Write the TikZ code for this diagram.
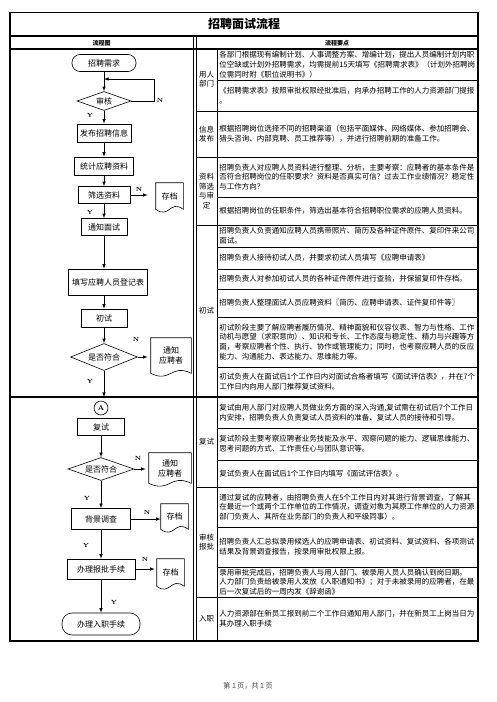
\documentclass[tikz,border=0pt]{standalone}
\usepackage{fontspec}
\newfontfamily\cjk{Noto Sans CJK SC}
\usetikzlibrary{shapes.geometric,calc}
\tikzset{terminal/.style={draw=black, rectangle, rounded corners=8pt, minimum height=17pt, font=\cjk\fontsize{8}{9}\selectfont}}
\tikzset{process/.style={draw=black, rectangle, minimum height=18pt, inner sep=2pt, font=\cjk\fontsize{8}{9}\selectfont}}
\tikzset{decision/.style={draw=black, diamond, aspect=2.5, inner sep=0pt, font=\cjk\fontsize{8}{9}\selectfont}}
\tikzset{doc/.style={rectangle, inner sep=0pt, align=center, font=\cjk\fontsize{8}{10}\selectfont}}
\tikzset{yn/.style={inner sep=0pt, font=\bfseries\fontsize{6}{6}\selectfont}}
\tikzset{lab/.style={inner sep=0pt, align=center, font=\cjk\fontsize{7.5}{9.5}\selectfont}}
\tikzset{cell/.style={anchor=west, inner sep=0pt, align=left, font=\cjk\fontsize{7.5}{9.8}\selectfont}}
\newcommand\docline[1]{\draw (#1.south west) -- (#1.north west) -- (#1.north east) -- (#1.south east)
  .. controls ($(#1.south)+(0,-10)$) and ($(#1.south)+(0,10)$) .. (#1.south west) -- cycle;}

\begin{document}
\begin{tikzpicture}[x=1pt, y=-1pt, >=latex, line width=0.6pt]
\useasboundingbox (0,0) rectangle (496,702);
% table frame
\draw[line width=1.6pt] (10,12.5) rectangle (478,641);
\draw[line width=1.6pt] (10,36) -- (478,36);
\draw[line width=1.2pt] (10,49) -- (478,49);
\draw[line width=1.6pt] (10,397) -- (478,397);
\draw (193,36) -- (193,641);
\draw (196,36) -- (196,641);
\draw[line width=1pt] (217,49) -- (217,641);
\foreach \y in {111,157,225,487,597}
  \draw[line width=1pt] (196,\y) -- (478,\y);
\foreach \y in {80,197,247,269,289,317,367,428,460,527,567}
  \draw[line width=0.8pt] (217,\y) -- (478,\y);

\node[font=\cjk\bfseries\fontsize{12}{12}\selectfont] (title) at (244,24) {招聘面试流程};
\node[font=\cjk\bfseries\fontsize{6}{6}\selectfont] (headl) at (101.5,43) {流程图};
\node[font=\cjk\bfseries\fontsize{6}{6}\selectfont] (headr) at (337,43) {流程要点};

% flow chart
\node[terminal, minimum width=64pt] (need) at (104,63) {招聘需求};
\node[decision, minimum width=54pt, minimum height=19pt] (audit) at (104,101) {审核};
\node[process, minimum width=54pt] (post) at (104,133) {发布招聘信息};
\node[process, minimum width=59pt] (stats) at (104,166) {统计应聘资料};
\node[process, minimum width=52pt, minimum height=17pt] (screen) at (104,195) {筛选资料};
\node[doc, minimum width=27pt, minimum height=26pt] (arch1) at (169.5,196) {存档};
\node[process, minimum width=46pt, minimum height=17pt] (notify) at (104,227) {通知面试};
\node[process, minimum width=79pt, minimum height=26pt] (form) at (108,282) {填写应聘人员登记表};
\node[process, minimum width=46pt] (first) at (104,318) {初试};
\node[decision, minimum width=67pt, minimum height=27pt] (ok1) at (104,357) {是否符合};
\node[doc, minimum width=40pt, minimum height=35pt] (tell1) at (171,355.5) {通知\\应聘者};
\coordinate (cut) at (104,397);

\node[draw, circle, minimum size=14pt, inner sep=0pt, font=\bfseries\fontsize{7}{7}\selectfont] (conA) at (101,408) {A};
\node[process, minimum width=47pt, minimum height=17pt] (second) at (101,427) {复试};
\node[decision, minimum width=66pt, minimum height=23pt] (ok2) at (101,469) {是否符合};
\node[doc, minimum width=42pt, minimum height=30pt] (tell2) at (170,468) {通知\\应聘者};
\node[process, minimum width=59pt, minimum height=21pt] (bg) at (101,519) {背景调查};
\node[doc, minimum width=27pt, minimum height=25pt] (arch2) at (174.5,516.5) {存档};
\node[process, minimum width=68pt, minimum height=20pt] (approve) at (101,569) {办理报批手续};
\node[doc, minimum width=27pt, minimum height=27pt] (arch3) at (170.5,572.5) {存档};
\node[terminal, minimum width=78pt, minimum height=22pt, rounded corners=10pt] (onboard) at (101,624) {办理入职手续};

\docline{arch1}
\docline{tell1}
\docline{tell2}
\docline{arch2}
\docline{arch3}

\coordinate (back) at (154,79);
\draw[->] (need.south) -- (need.south |- audit.north);
\draw[->] (audit.east) -| (back) -- (back -| need.south);
\draw[->] (audit.south) -- (audit.south |- post.north);
\draw[->] (post.south) -- (post.south |- stats.north);
\draw[->] (stats.south) -- (stats.south |- screen.north);
\draw[->, shorten >=8pt] (screen.east) -- (screen.east -| arch1.west);
\draw[->] (screen.south) -- (screen.south |- notify.north);
\draw[->] (notify.south) -- (notify.south |- form.north);
\draw[->] (form.south -| first.north) -- (first.north);
\draw[->] (first.south) -- (first.south |- ok1.north);
\draw[->, shorten >=3pt] (ok1.east) -- (ok1.east -| tell1.west);
\draw[->] (ok1.south) -- (cut);
\draw[->] (second.south) -- (second.south |- ok2.north);
\draw[->, shorten >=3pt] (ok2.east) -- (ok2.east -| tell2.west);
\draw[->] (ok2.south) -- (ok2.south |- bg.north);
\draw[->] (bg.east) -- (bg.east -| arch2.west);
\draw[->] (bg.south) -- (bg.south |- approve.north);
\draw[->, shorten >=2pt] (approve.east) -- (approve.east -| arch3.west);
\draw[->] (approve.south) -- (approve.south |- onboard.north);

\node[yn] (n1) at (160,100) {N};
\node[yn] (y1) at (90,115) {Y};
\node[yn] (n2) at (139,189) {N};
\node[yn] (y2) at (90,212) {Y};
\node[yn] (n3) at (136,339) {N};
\node[yn] (y3) at (90,381) {Y};
\node[yn] (n4) at (138,458) {N};
\node[yn] (y4) at (87,498) {Y};
\node[yn] (n5) at (147,512) {N};
\node[yn] (y5) at (86,545) {Y};
\node[yn] (n6) at (145,559) {N};
\node[yn] (y6) at (114,602) {Y};

% stage labels
\node[lab] (s1) at (206.5,79) {用人\\部门};
\node[lab] (s2) at (206.5,134) {信息\\发布};
\node[lab] (s3) at (206.5,191) {资料\\筛选\\与审\\定};
\node[lab] (s4) at (206.5,311) {初试};
\node[lab] (s5) at (206.5,442) {复试};
\node[lab] (s6) at (206.5,542) {审核\\报批};
\node[lab] (s7) at (206.5,619) {入职};

% key points
\node[cell] (r1) at (219,64.5) {各部门根据现有编制计划、人事调整方案、增编计划，提出人员编制计划内职\\位空缺或计划外招聘需求，均需提前15天填写《招聘需求表》（计划外招聘岗\\位需同时附《职位说明书》）};
\node[cell] (r2) at (219,95.5) {《招聘需求表》按照审批权限经批准后，向承办招聘工作的人力资源部门提报\\。};
\node[cell] (r3) at (219,134) {根据招聘岗位选择不同的招聘渠道（包括平面媒体、网络媒体、参加招聘会、\\猎头咨询、内部竞聘、员工推荐等），并进行招聘前期的准备工作。};
\node[cell] (r4) at (219,177) {招聘负责人对应聘人员资料进行整理、分析，主要考察：应聘者的基本条件是\\否符合招聘岗位的任职要求？资料是否真实可信？过去工作业绩情况？稳定性\\与工作方向？};
\node[cell] (r5) at (219,211) {根据招聘岗位的任职条件，筛选出基本符合招聘职位需求的应聘人员资料。};
\node[cell] (r6) at (219,236) {招聘负责人负责通知应聘人员携带照片、简历及各种证件原件、复印件来公司\\面试。};
\node[cell] (r7) at (219,258) {招聘负责人接待初试人员，并要求初试人员填写《应聘申请表》};
\node[cell] (r8) at (219,279) {招聘负责人对参加初试人员的各种证件原件进行查验，并保留复印件存档。};
\node[cell] (r9) at (219,303) {招聘负责人整理面试人员应聘资料〖简历、应聘申请表、证件复印件等〗};
\node[cell] (r10) at (219,342) {初试阶段主要了解应聘者履历情况、精神面貌和仪容仪表、智力与性格、工作\\动机与愿望（求职意向）、知识和专长、工作态度与稳定性、精力与兴趣等方\\面，考察应聘者个性、执行、协作或管理能力；同时，也考察应聘人员的反应\\能力、沟通能力、表达能力、思维能力等。};
\node[cell] (r11) at (219,382) {初试负责人在面试后1个工作日内对面试合格者填写《面试评估表》，并在7个\\工作日内向用人部门推荐复试资料。};
\node[cell] (r12) at (219,412.5) {复试由用人部门对应聘人员做业务方面的深入沟通,复试需在初试后7个工作日\\内安排，招聘负责人负责复试人员资料的准备、复试人员的接待和引导。};
\node[cell] (r13) at (219,444) {复试阶段主要考察应聘者业务技能及水平、观察问题的能力、逻辑思维能力、\\思考问题的方式、工作责任心与团队意识等。};
\node[cell] (r14) at (219,473.5) {复试负责人在面试后1个工作日内填写《面试评估表》。};
\node[cell] (r15) at (219,507) {通过复试的应聘者，由招聘负责人在5个工作日内对其进行背景调查，了解其\\在最近一个或两个工作单位的工作情况，调查对象为其原工作单位的人力资源\\部门负责人、其所在业务部门的负责人和平级同事）。};
\node[cell] (r16) at (219,547) {招聘负责人汇总拟录用候选人的应聘申请表、初试资料、复试资料、各项测试\\结果及背景调查报告，按录用审批权限上报。};
\node[cell] (r17) at (219,582) {录用审批完成后，招聘负责人与用人部门、被录用人员人员确认到岗日期。\\人力部门负责给被录用人发放《入职通知书》；对于未被录用的应聘者，在最\\后一次复试后的一周内发《辞谢函》};
\node[cell] (r18) at (219,619) {人力资源部在新员工报到前二个工作日通知用人部门，并在新员工上岗当日为\\其办理入职手续};

\node[font=\cjk\fontsize{7}{7}\selectfont, text=black!75] (foot) at (248,686) {第 1 页，共 1 页};
\end{tikzpicture}
\end{document}
